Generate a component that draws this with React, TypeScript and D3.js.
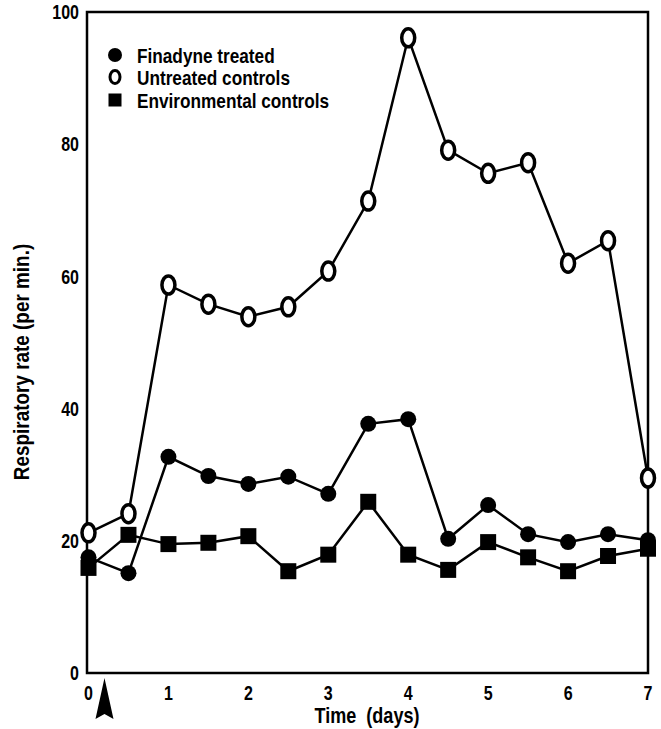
import React from "react";
import * as d3 from "d3";

const days = [0, 0.5, 1, 1.5, 2, 2.5, 3, 3.5, 4, 4.5, 5, 5.5, 6, 6.5, 7];
const finadyne = [17.5, 15.1, 32.7, 29.8, 28.6, 29.7, 27.1, 37.7, 38.4, 20.3, 25.4, 21.0, 19.8, 21.0, 20.1];
const untreated = [21.2, 24.1, 58.7, 55.8, 53.9, 55.4, 60.8, 71.4, 96.1, 79.1, 75.6, 77.2, 62.0, 65.4, 29.5];
const environmental = [15.9, 20.9, 19.5, 19.7, 20.7, 15.4, 17.9, 25.9, 17.9, 15.6, 19.8, 17.5, 15.4, 17.7, 18.8];
const xTicks = [0, 1, 2, 3, 4, 5, 6, 7];
const yTicks = [0, 20, 40, 60, 80, 100];
const legendLabels = ["Finadyne treated", "Untreated controls", "Environmental controls"];
const treatmentDay = 0.2;

const FONT = "'Liberation Sans', Arial, sans-serif";

function NText(props: {
  x: number;
  y: number;
  size: number;
  sx?: number;
  anchor?: string;
  rotate?: number;
  dy?: string;
  children: React.ReactNode;
}) {
  const { x, y, size, sx = 0.8, anchor = "start", rotate = 0, dy, children } = props;
  return (
    <g transform={`translate(${x},${y}) rotate(${rotate}) scale(${sx},1)`}>
      <text
        x={0}
        y={0}
        dy={dy}
        textAnchor={anchor}
        fontSize={size}
        fontWeight={700}
        style={{ whiteSpace: "pre" }}
      >
        {children}
      </text>
    </g>
  );
}

export default function App() {
  const W = 661;
  const H = 729;
  const x = d3.scaleLinear().domain([0, 7]).range([88.5, 648]);
  const y = d3.scaleLinear().domain([0, 100]).range([673, 12]);
  const line = d3
    .line<number>()
    .x((_, i) => x(days[i]))
    .y((d) => y(d));

  const [x0, x1] = x.range();
  const [yb, yt] = y.range();
  const ax = x(treatmentDay);

  return (
    <svg
      width={W}
      height={H}
      style={{ position: "absolute", left: 0, top: 0, background: "#fff" }}
      fontFamily={FONT}
    >
      <rect x={0} y={0} width={W} height={H} fill="#fff" />
      {/* frame */}
      <rect
        x={x0 - 1.5}
        y={yt}
        width={x1 - x0 + 1.5}
        height={yb - yt}
        fill="none"
        stroke="#000"
        strokeWidth={2.5}
      />
      {/* y ticks */}
      {yTicks.map((t) => (
        <NText key={"y" + t} x={79} y={y(t)} dy="0.36em" anchor="end" size={20}>
          {t}
        </NText>
      ))}
      {/* x ticks */}
      {xTicks.map((t) => (
        <NText key={"x" + t} x={x(t)} y={700} anchor="middle" size={20}>
          {t}
        </NText>
      ))}
      {/* arrow */}
      <path d={`M${ax},678 L${ax + 9},719 L${ax},714 L${ax - 9},719 Z`} fill="#000" />
      {/* axis labels */}
      <NText x={367} y={723} anchor="middle" size={22} sx={0.82}>
        {"Time  (days)"}
      </NText>
      <NText x={29} y={362} anchor="middle" size={22} sx={0.86} rotate={-90}>
        Respiratory rate (per min.)
      </NText>
      {/* lines */}
      <path d={line(untreated) || ""} fill="none" stroke="#000" strokeWidth={2.5} />
      <path d={line(finadyne) || ""} fill="none" stroke="#000" strokeWidth={2.5} />
      <path d={line(environmental) || ""} fill="none" stroke="#000" strokeWidth={2.5} />
      {/* markers */}
      {environmental.map((v, i) => (
        <rect key={"s" + i} x={x(days[i]) - 8} y={y(v) - 8} width={16} height={16} fill="#000" />
      ))}
      {finadyne.map((v, i) => (
        <circle key={"c" + i} cx={x(days[i])} cy={y(v)} r={8} fill="#000" />
      ))}
      {untreated.map((v, i) => (
        <ellipse
          key={"o" + i}
          cx={x(days[i])}
          cy={y(v)}
          rx={6.5}
          ry={9}
          fill="#fff"
          stroke="#000"
          strokeWidth={3.5}
        />
      ))}
      {/* legend */}
      <g>
        <circle cx={115} cy={55} r={7} fill="#000" />
        <ellipse cx={115} cy={77} rx={5} ry={6.5} fill="#fff" stroke="#000" strokeWidth={3} />
        <rect x={108.5} y={93.5} width={13} height={13} fill="#000" />
        {legendLabels.map((l, i) => (
          <NText key={l} x={137} y={55 + i * 22.5} dy="0.36em" size={21} sx={0.82}>
            {l}
          </NText>
        ))}
      </g>
    </svg>
  );
}
